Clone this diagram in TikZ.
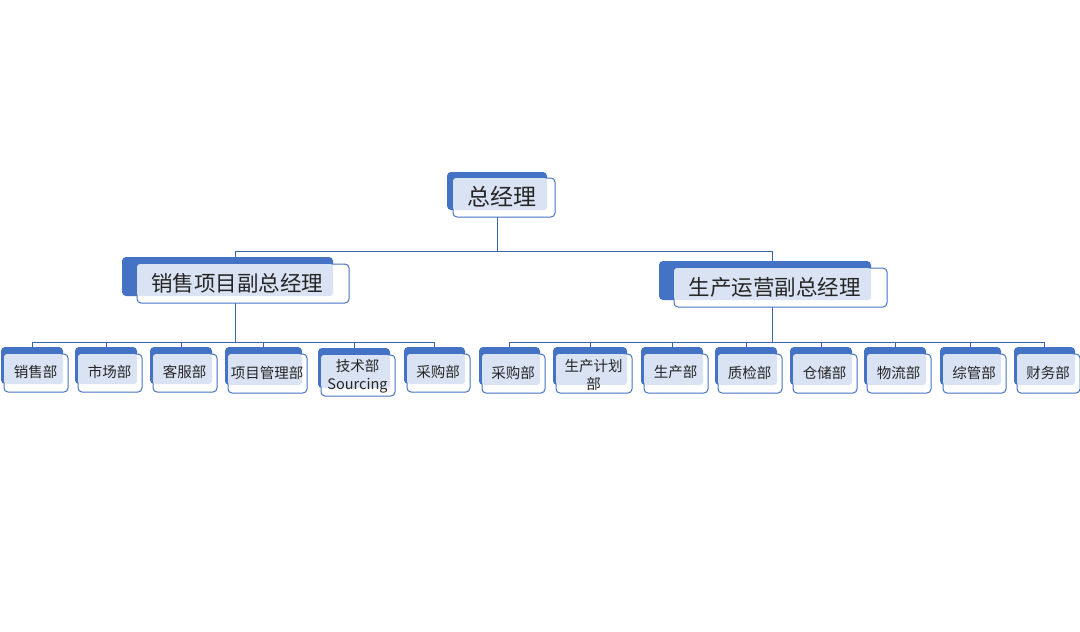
\documentclass[tikz,border=0pt]{standalone}
\usepackage{fontspec}
\setmainfont{Noto Sans CJK SC}
\usepackage{tikz}
\definecolor{boxblue}{HTML}{4472C4}
\definecolor{boxlight}{HTML}{DAE3F3}
\definecolor{linkblue}{HTML}{3A63AD}
\pgfdeclarelayer{background}
\pgfsetlayers{background,main}
\tikzset{
  every node/.style={
    font=\fontsize{14.5}{18}\selectfont,
    text=black!85
  },
  boxback/.style={
    shape=rectangle,
    fill=boxblue,
    rounded corners=4pt,
    inner sep=0pt
  },
  boxfront/.style={
    draw=boxblue,
    line width=1pt,
    fill=white,
    rounded corners=4pt
  },
  boxinner/.style={
    shape=rectangle,
    fill=boxlight,
    rounded corners=3pt,
    inner sep=0pt
  },
  boxtext/.style={
    inner sep=0pt,
    align=center,
    xshift=2,
    yshift=-3
  },
  toptext/.style={
    font=\fontsize{23}{27}\selectfont
  },
  vptext/.style={
    font=\fontsize{21.5}{25}\selectfont
  },
  link/.style={
    draw=linkblue,
    line width=0.9pt
  }
}
% #2 name, #3 #4 #5 #6 the light inner part, #7 text
\newcommand{\orgbox}[7][]{%
  \node[boxback, minimum width={#5-#3+\offL}, minimum height={#6-#4+\offU}]
    (#2-b) at ({(#3-\offL+#5)/2},{-(#4-\offU+#6)/2}) {};
  \draw[boxfront] (#3,-#4) rectangle ({#5+\offR},{-#6-\offD});
  \node[boxinner, minimum width={#5-#3}, minimum height={#6-#4}]
    (#2-i) at ({(#3+#5)/2},{-(#4+#6)/2}) {};
  \node[boxtext, #1] (#2) at (#2-i) {#7};
}

\begin{document}
\begin{tikzpicture}[x=1pt,y=1pt]
  \useasboundingbox (0,0) rectangle (1080,-632);

  \def\offL{6}\def\offU{6}\def\offR{8}\def\offD{7}
  \orgbox[toptext]{gm}{453}{178}{547}{210}{总经理}

  \def\offL{15}\def\offU{7}\def\offR{16}\def\offD{7}
  \orgbox[vptext]{salesvp}{137}{264}{333}{296}{销售项目副总经理}
  \orgbox[vptext]{opsvp}{674}{268}{871}{300}{生产运营副总经理}

  \def\offL{3}\def\offU{7}\def\offR{5}\def\offD{8}
  \orgbox{salesdep}{4}{354}{63}{384}{销售部}
  \orgbox{market}{78}{354}{137}{384}{市场部}
  \orgbox{service}{153}{354}{212}{384}{客服部}
  \orgbox{project}{228}{354}{302}{385}{项目管理部}
  \orgbox[yshift=-2]{tech}{321}{355}{390}{388}{技术部\\Sourcing}
  \orgbox{purchA}{407}{354}{465}{384}{采购部}
  \orgbox{purchB}{482}{354}{540}{385}{采购部}
  \orgbox[yshift=-2]{plan}{556}{354}{627}{385}{生产计划\\部}
  \orgbox{produce}{644}{354}{703}{385}{生产部}
  \orgbox{quality}{718}{354}{777}{385}{质检部}
  \orgbox{store}{793}{354}{852}{385}{仓储部}
  \orgbox{logist}{867}{354}{926}{385}{物流部}
  \orgbox{admin}{943}{354}{1001}{385}{综管部}
  \orgbox{finance}{1017}{354}{1075}{385}{财务部}

  % connectors
  \begin{pgfonlayer}{background}
    \coordinate (barA) at (0,-251);
    \coordinate (barB) at (0,-342);
    \draw[link] (gm-b) -- (gm-b |- barA) -| (salesvp-i);
    \draw[link] (gm-b |- barA) -| (opsvp-i);
    \foreach \d in {salesdep,market,service,project,tech,purchA}
      \draw[link] (salesvp-i) -- (salesvp-i |- barB) -| (\d-b);
    \foreach \d in {purchB,plan,produce,quality,store,logist,admin,finance}
      \draw[link] (opsvp-i) -- (opsvp-i |- barB) -| (\d-b);
  \end{pgfonlayer}
\end{tikzpicture}
\end{document}
